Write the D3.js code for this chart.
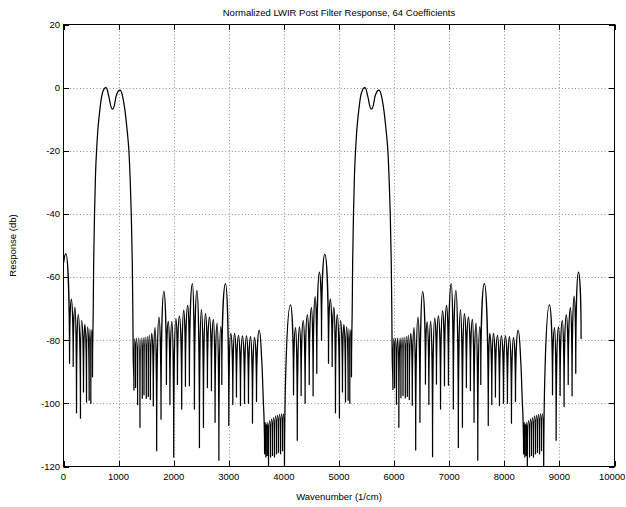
<!DOCTYPE html>
<html><head><meta charset="utf-8">
<script src="https://cdn.jsdelivr.net/npm/d3@7"></script>
<style>
html,body{margin:0;padding:0;background:#fff;}
svg{display:block;}
text{font-family:"Liberation Sans",Arial,Helvetica,sans-serif;font-size:9.5px;fill:#000;}
</style></head><body>
<svg id="chart" width="626" height="507"></svg>
<script>
// ---------------- data (wavenumber 1/cm, response dB) ----------------
const titleText = "Normalized LWIR Post Filter Response, 64 Coefficients";
const xLabelText = "Wavenumber (1/cm)";
const yLabelText = "Response (db)";
const xTicks = [0,1000,2000,3000,4000,5000,6000,7000,8000,9000,10000];
const yTicks = [20,0,-20,-40,-60,-80,-100,-120];

const sidelobes0 = [[0,-55.5],[42,-52.6],[110,-87.3],[142,-67],[176,-88.3],[208,-69.5],[236,-103],[267,-71.8],[308,-104.7],[328,-73.7],[363,-96.4],[388,-75],[418,-99.6],[438,-75.8],[466,-99],[480,-76.4],[496,-100],[514,-76.7],[526,-91.6]];
const passband1 = [[540,-70],[548,-55],[563,-40],[580,-28],[600,-20],[630,-12],[660,-7],[690,-3],[730,-0.6],[770,0],[820,-2.6],[890,-6.8],[960,-2.4],[1025,-0.8],[1070,-2.6],[1115,-7.2],[1155,-13.5],[1187,-20],[1212,-30],[1230,-40],[1248,-55],[1258,-70],[1265,-85]];
const sidelobes1 = [[1279,-95.8],[1294,-79.5],[1309,-95],[1327,-79.4],[1345,-100.4],[1366,-79.3],[1388,-107.6],[1409,-79.3],[1430,-98.4],[1446,-79.2],[1461,-97.3],[1482,-79],[1503,-98.4],[1521,-78.8],[1539,-97.8],[1557,-78.4],[1576,-98.8],[1603,-77.8],[1630,-100.8],[1662,-76],[1691,-115],[1733,-72.7],[1770,-105],[1821,-64.5],[1868,-94],[1902,-74],[1932,-100.4],[1968,-74],[2000,-117],[2040,-73.2],[2068,-94],[2103,-72.4],[2145,-101.8],[2182,-70.5],[2213,-94.6],[2255,-69],[2285,-94.4],[2340,-62.1],[2376,-101.8],[2422,-64.2],[2467,-114],[2503,-70.3],[2540,-107.6],[2576,-71.6],[2612,-95],[2649,-72.7],[2685,-96],[2721,-73.4],[2751,-106],[2788,-74.6],[2820,-118],[2855,-75.7],[2873,-94],[2940,-62.1],[3000,-107],[3036,-77.8],[3073,-100.4],[3104,-77.8],[3139,-98],[3176,-78.5],[3212,-100.7],[3248,-78.6],[3285,-100],[3321,-78.6],[3357,-100],[3394,-78.9],[3430,-106.3],[3467,-79.2],[3503,-99.4],[3551,-76.9]];
const stopband1 = [[3600,-87],[3628,-100],[3640,-105],[3650,-116],[3661,-106],[3673,-117],[3685,-106.5],[3697,-116.5],[3709,-106],[3721,-121],[3740,-105.5],[3758,-117],[3776,-105],[3794,-116.5],[3812,-104.5],[3830,-117],[3849,-104],[3867,-116],[3885,-103.8],[3903,-115.5],[3921,-103.5],[3940,-116],[3958,-103.3],[3976,-115],[3993,-103.3],[4010,-125]];
const sidelobes2 = [[4120,-68.8],[4175,-97.3],[4212,-76],[4243,-111.7],[4282,-75.8],[4313,-97.5],[4350,-73.8],[4385,-100],[4425,-72],[4460,-94],[4500,-69.7],[4530,-97.6],[4567,-66.2],[4597,-90.5],[4645,-58.4],[4683,-80],[4742,-52.7],[4810,-87.3],[4842,-67],[4876,-88.3],[4908,-69.5],[4936,-103],[4967,-71.8],[5008,-104.7],[5028,-73.7],[5063,-96.4],[5088,-75],[5118,-99.6],[5138,-75.8],[5166,-99],[5180,-76.4],[5196,-100],[5214,-76.7],[5226,-91.6]];
const passband2 = [[5240,-70],[5248,-55],[5263,-40],[5280,-28],[5300,-20],[5330,-12],[5360,-7],[5390,-3],[5430,-0.6],[5470,0],[5520,-2.6],[5590,-6.8],[5660,-2.4],[5725,-0.8],[5770,-2.6],[5815,-7.2],[5855,-13.5],[5887,-20],[5912,-30],[5930,-40],[5948,-55],[5958,-70],[5965,-85]];
const sidelobes3 = [[5979,-95.6],[5994,-79.5],[6009,-95],[6027,-79.4],[6043,-100.3],[6066,-79.3],[6086,-107.6],[6109,-79.3],[6124,-98.2],[6146,-79.2],[6162,-97.5],[6182,-79],[6204,-98.3],[6221,-78.8],[6240,-97.8],[6257,-78.4],[6276,-98.8],[6303,-77.8],[6330,-100.6],[6362,-76],[6392,-114.8],[6433,-72.7],[6469,-106],[6518,-64.6],[6569,-93.9],[6600,-74.2],[6631,-100.4],[6664,-74],[6698,-116.9],[6737,-73],[6769,-93.9],[6805,-72.3],[6843,-101.8],[6880,-70.6],[6914,-94.4],[6952,-69],[6986,-94.3],[7037,-62.1],[7075,-101.8],[7122,-64.2],[7166,-114],[7203,-70.3],[7240,-107.6],[7276,-71.6],[7312,-95],[7349,-72.7],[7385,-96],[7421,-73.4],[7451,-106],[7488,-74.6],[7519,-118],[7555,-75.7],[7573,-94],[7638,-62.1],[7709,-107],[7736,-77.8],[7773,-100.4],[7804,-77.8],[7839,-98],[7876,-78.5],[7912,-100.7],[7948,-78.6],[7985,-100],[8021,-78.6],[8057,-100],[8094,-78.9],[8130,-106.3],[8167,-79.2],[8203,-99.4],[8251,-76.9]];
const stopband2 = [[8300,-87],[8328,-100],[8340,-105],[8350,-116],[8361,-106],[8373,-117],[8385,-106.5],[8397,-116.5],[8409,-106],[8418,-121],[8440,-105.5],[8458,-117],[8476,-105],[8494,-116.5],[8512,-104.5],[8530,-117],[8549,-104],[8567,-116],[8585,-103.8],[8603,-115.5],[8621,-103.5],[8640,-116],[8658,-103.3],[8676,-115],[8693,-103.3],[8715,-125]];
const sidelobes4 = [[8820,-68.8],[8875,-97.3],[8912,-76],[8941,-111.7],[8982,-75.8],[9013,-97.5],[9052,-73.8],[9085,-101],[9125,-72],[9160,-94],[9200,-69.7],[9230,-97.6],[9268,-66],[9297,-90.5],[9345,-58.4],[9394,-79.6]];

const response = [].concat(sidelobes0, passband1, sidelobes1, stopband1, sidelobes2, passband2, sidelobes3, stopband2, sidelobes4);

// ---------------- layout ----------------
const svg = d3.select("#chart");
const x = d3.scaleLinear().domain([0,10000]).range([63.5,614.5]);
const y = d3.scaleLinear().domain([-120,20]).range([466.5,24.5]);
const x0 = x.range()[0], x1 = x.range()[1], yTop = y.range()[1], yBot = y.range()[0];

// grid
const grid = svg.append("g").attr("stroke","#8c8c8c").attr("stroke-width",1).attr("stroke-dasharray","1,2.3").attr("fill","none");
grid.selectAll("line.gx").data(xTicks.filter(t=>t>0 && t<10000)).join("line")
  .attr("x1",d=>Math.round(x(d))+0.5).attr("x2",d=>Math.round(x(d))+0.5).attr("y1",yTop).attr("y2",yBot);
grid.selectAll("line.gy").data(yTicks.filter(t=>t>-120 && t<20)).join("line")
  .attr("y1",d=>Math.round(y(d))+0.5).attr("y2",d=>Math.round(y(d))+0.5).attr("x1",x0).attr("x2",x1);

// clip
svg.append("clipPath").attr("id","plotclip").append("rect")
  .attr("x",x0).attr("y",yTop).attr("width",x1-x0).attr("height",yBot-yTop);

// custom lobe curve: peaks get horizontal tangents, deep nulls vertical (cusp) tangents
function lobeCurve(context){
  let pts=[];
  return {
    areaStart(){}, areaEnd(){},
    lineStart(){pts=[];},
    point(px,py){pts.push([+px,+py]);},
    lineEnd(){
      const n=pts.length; if(!n) return;
      const TH=20; // px
      const kind=pts.map((p,i)=>{
        const a=pts[i-1], b=pts[i+1];
        if(a&&b){
          if(p[1]<a[1]&&p[1]<b[1]) return "peak";
          if(p[1]>a[1]&&p[1]>b[1]) return (p[1]-a[1]>TH && p[1]-b[1]>TH) ? "null" : "flat";
          return "gen";
        }
        const q=a||b;
        if(p[1]-q[1]>TH) return "null";
        return "gen";
      });
      const slope=pts.map((p,i)=>{
        const a=pts[i-1]||p, b=pts[i+1]||p;
        const dx=b[0]-a[0];
        return dx===0?0:(b[1]-a[1])/dx;
      });
      const K=0.55;
      context.moveTo(pts[0][0],pts[0][1]);
      for(let i=0;i<n-1;i++){
        const a=pts[i], b=pts[i+1], dx=b[0]-a[0], dy=b[1]-a[1];
        let c1, c2;
        if(kind[i]==="peak"||kind[i]==="flat") c1=[a[0]+K*dx,a[1]];
        else if(kind[i]==="null") c1=[a[0],a[1]+K*dy];
        else c1=[a[0]+dx/3,a[1]+slope[i]*dx/3];
        if(kind[i+1]==="peak"||kind[i+1]==="flat") c2=[b[0]-K*dx,b[1]];
        else if(kind[i+1]==="null") c2=[b[0],b[1]-K*dy];
        else c2=[b[0]-dx/3,b[1]-slope[i+1]*dx/3];
        context.bezierCurveTo(c1[0],c1[1],c2[0],c2[1],b[0],b[1]);
      }
    }
  };
}

const line = d3.line().x(d=>x(d[0])).y(d=>y(d[1])).curve(lobeCurve);
svg.append("path").datum(response).attr("d",line)
  .attr("clip-path","url(#plotclip)")
  .attr("fill","none").attr("stroke","#000").attr("stroke-width",1.25).attr("stroke-linejoin","round");

// box and ticks (inward, all four sides)
const TL=5.5;
const axes = svg.append("g").attr("stroke","#000").attr("stroke-width",1).attr("fill","none");
axes.append("rect").attr("x",x0).attr("y",yTop).attr("width",x1-x0).attr("height",yBot-yTop);
xTicks.forEach(t=>{
  const px=Math.round(x(t))+0.5;
  axes.append("line").attr("x1",px).attr("x2",px).attr("y1",yBot).attr("y2",yBot-TL);
  axes.append("line").attr("x1",px).attr("x2",px).attr("y1",yTop).attr("y2",yTop+TL);
});
yTicks.forEach(t=>{
  const py=Math.round(y(t))+0.5;
  axes.append("line").attr("y1",py).attr("y2",py).attr("x1",x0).attr("x2",x0+TL);
  axes.append("line").attr("y1",py).attr("y2",py).attr("x1",x1).attr("x2",x1-TL);
});

// tick labels (last one kept inside the 626px canvas)
svg.append("g").selectAll("text").data(xTicks).join("text")
  .attr("x",d=>Math.min(x(d), 625.5 - 13.3)).attr("y",yBot+13).attr("text-anchor","middle").text(d=>String(d));
svg.append("g").selectAll("text").data(yTicks).join("text")
  .attr("x",x0-3.5).attr("y",d=>y(d)+3.4).attr("text-anchor","end").text(d=>String(d));

// titles
svg.append("text").attr("x",(x0+x1)/2).attr("y",16).attr("text-anchor","middle").text(titleText);
svg.append("text").attr("x",(x0+x1)/2).attr("y",500).attr("text-anchor","middle").text(xLabelText);
svg.append("text").attr("transform",`translate(16,${(yTop+yBot)/2}) rotate(-90)`).attr("text-anchor","middle").text(yLabelText);
</script>
</body></html>
